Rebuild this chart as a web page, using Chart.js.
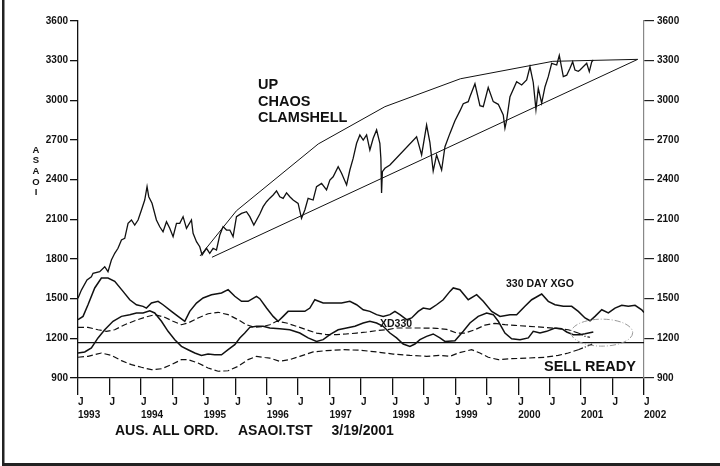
<!DOCTYPE html>
<html>
<head>
<meta charset="utf-8">
<script src="https://cdn.jsdelivr.net/npm/chart.js@4.4.1/dist/chart.umd.min.js"></script>
<style>
  html, body { margin: 0; padding: 0; background: #fff; }
  #wrap { width: 720px; height: 466px; position: relative; }
</style>
</head>
<body>
<div id="wrap"><canvas id="chart"></canvas></div>
<script>
// ASAOI chart - up chaos clamshell

const FONT = 'Arial, "Liberation Sans", Helvetica, sans-serif';

// x axis: years, ticks every half year (Jan / Jul)
const X_MIN = 1993;
const X_MAX = 2002;
const Y_MIN = 900;
const Y_MAX = 3600;
const Y_STEP = 300;

// ASAOI price
const priceYears = [
    1993.000, 1993.054, 1993.143, 1993.213, 1993.239, 1993.345, 1993.425, 1993.477, 1993.531, 1993.584, 1993.636, 1993.691, 1993.743, 1993.796, 1993.850, 1993.902, 1993.955,
    1994.009, 1994.061, 1994.098, 1994.125, 1994.177, 1994.247, 1994.300, 1994.352, 1994.407, 1994.459, 1994.512, 1994.566, 1994.618, 1994.671, 1994.725, 1994.804, 1994.830, 1994.884, 1994.936, 1994.973,
    1995.043, 1995.095, 1995.148, 1995.202, 1995.255, 1995.307, 1995.361, 1995.414, 1995.466, 1995.520, 1995.600, 1995.679, 1995.732, 1995.796, 1995.891, 1995.944, 1995.998,
    1996.050, 1996.103, 1996.157, 1996.209, 1996.262, 1996.316, 1996.368, 1996.421, 1996.500, 1996.554, 1996.607, 1996.659, 1996.739, 1996.793, 1996.873, 1996.952,
    1997.005, 1997.057, 1997.137, 1997.191, 1997.271, 1997.323, 1997.375, 1997.430, 1997.482, 1997.535, 1997.589, 1997.641, 1997.694, 1997.748, 1997.800, 1997.816, 1997.827, 1997.840, 1997.880, 1997.960,
    1998.384, 1998.464, 1998.543, 1998.596, 1998.648, 1998.702, 1998.782, 1998.835, 1998.914, 1998.994,
    1999.073, 1999.126, 1999.205, 1999.232, 1999.312, 1999.391, 1999.444, 1999.523, 1999.603, 1999.683, 1999.762, 1999.789, 1999.816, 1999.869, 1999.975,
    2000.055, 2000.134, 2000.187, 2000.239, 2000.282, 2000.319, 2000.373, 2000.426, 2000.478, 2000.532, 2000.612, 2000.653, 2000.717, 2000.771, 2000.823, 2000.866, 2000.903, 2000.955, 2000.982,
    2001.089, 2001.130, 2001.169, 2001.194
];
const priceValues = [
    1503, 1565, 1641, 1666, 1692, 1704, 1742, 1704, 1792, 1843, 1881, 1944, 1956, 2070, 2095, 2057, 2095,
    2171, 2246, 2347, 2271, 2221, 2095, 2044, 2006, 2082, 2032, 1969, 2070, 2070, 2120, 2032, 2095, 1994, 1931, 1893, 1830,
    1881, 1843, 1881, 1868, 1982, 2045, 2019, 2019, 1969, 2120, 2145, 2158, 2120, 2057, 2140, 2196, 2233,
    2260, 2284, 2315, 2271, 2259, 2300, 2271, 2246, 2220, 2108, 2171, 2259, 2246, 2347, 2372, 2322,
    2397, 2422, 2498, 2448, 2360, 2473, 2561, 2675, 2738, 2700, 2738, 2624, 2713, 2776, 2675, 2560, 2300, 2460, 2486, 2511,
    2725, 2587, 2813, 2680, 2465, 2587, 2473, 2649, 2750, 2845,
    2920, 2975, 2990, 3027, 3125, 2960, 2952, 3097, 2990, 2970, 2889, 2790, 2850, 3027, 3141,
    3116, 3154, 3254, 3135, 2930, 3091, 2978, 3103, 3179, 3280, 3267, 3340, 3180, 3190, 3242, 3292, 3229, 3220, 3229,
    3280, 3217, 3292, 3305
];

// clamshell: upper curve and lower straight line
const clamUpperYears = [1994.94, 1995.52, 1996.82, 1997.88, 1999.08, 2000.55, 2001.90];
const clamUpperValues = [1823, 2165, 2670, 2952, 3163, 3295, 3310];
const clamLowerYears = [1995.13, 2001.90];
const clamLowerValues = [1813, 3310];

// 330 day XGO (upper solid)
const xgoYears = [
    1993.000, 1993.080, 1993.159, 1993.266, 1993.372, 1993.477, 1993.584, 1993.716, 1993.823, 1993.929,
    1994.034, 1994.088, 1994.168, 1994.273, 1994.352, 1994.486, 1994.591, 1994.698, 1994.777, 1994.884, 1994.989,
    1995.123, 1995.282, 1995.387, 1995.493, 1995.600, 1995.705, 1995.838, 1995.891, 1995.998,
    1996.103, 1996.182, 1996.262, 1996.341, 1996.475, 1996.607, 1996.687, 1996.766, 1996.898,
    1997.032, 1997.191, 1997.323, 1997.430, 1997.535, 1997.641, 1997.748, 1997.853, 1997.960,
    1998.039, 1998.119, 1998.225, 1998.305, 1998.410, 1998.489, 1998.596, 1998.702, 1998.807, 1998.914, 1998.967,
    1999.073, 1999.205, 1999.339, 1999.444, 1999.578, 1999.710, 1999.869, 1999.975,
    2000.107, 2000.214, 2000.373, 2000.478, 2000.585, 2000.717, 2000.850, 2000.955,
    2001.062, 2001.142, 2001.221, 2001.328, 2001.433, 2001.539, 2001.646, 2001.751, 2001.858, 2001.964, 2002.000
];
const xgoValues = [
    1341, 1366, 1454, 1581, 1656, 1656, 1631, 1555, 1492, 1454,
    1442, 1429, 1467, 1480, 1454, 1404, 1366, 1329, 1404, 1467, 1505,
    1530, 1543, 1568, 1518, 1480, 1480, 1518, 1500, 1429,
    1366, 1329, 1366, 1404, 1404, 1404, 1429, 1492, 1467,
    1467, 1467, 1480, 1454, 1416, 1404, 1379, 1366, 1379,
    1404, 1379, 1341, 1354, 1404, 1429, 1420, 1454, 1492, 1555, 1581,
    1568, 1492, 1530, 1480, 1404, 1366, 1379, 1379,
    1442, 1492, 1535, 1480, 1454, 1442, 1442, 1404,
    1354, 1333, 1366, 1416, 1392, 1429, 1450, 1442, 1450, 1416, 1395
];

// XD330 (lower solid)
const xdYears = [
    1993.000, 1993.107, 1993.213, 1993.318, 1993.425, 1993.557, 1993.691, 1993.823, 1993.929,
    1994.034, 1994.141, 1994.220, 1994.327, 1994.432, 1994.539, 1994.645, 1994.750, 1994.857, 1994.963,
    1995.068, 1995.175, 1995.282, 1995.387, 1995.493, 1995.573, 1995.652, 1995.732, 1995.838, 1995.944,
    1996.050, 1996.209, 1996.368, 1996.527, 1996.659, 1996.793, 1996.898,
    1997.005, 1997.137, 1997.271, 1997.403, 1997.535, 1997.641, 1997.748, 1997.853, 1997.960,
    1998.066, 1998.171, 1998.278, 1998.357, 1998.437, 1998.543, 1998.648, 1998.755, 1998.835, 1998.994,
    1999.126, 1999.232, 1999.364, 1999.498, 1999.603, 1999.683, 1999.789, 1999.896,
    2000.028, 2000.160, 2000.239, 2000.346, 2000.452, 2000.585, 2000.691, 2000.771, 2000.876, 2000.982,
    2001.062, 2001.194
];
const xdValues = [
    1089, 1097, 1127, 1203, 1265, 1329, 1366, 1379, 1392,
    1392, 1409, 1392, 1329, 1253, 1190, 1139, 1114, 1089, 1071,
    1081, 1076, 1076, 1114, 1152, 1203, 1240, 1283, 1291, 1291,
    1278, 1273, 1265, 1240, 1203, 1177, 1190,
    1228, 1265, 1278, 1291, 1316, 1329, 1316, 1291, 1240,
    1203, 1157, 1139, 1157, 1190, 1215, 1233, 1203, 1177, 1182,
    1253, 1316, 1366, 1392, 1379, 1329, 1240, 1197,
    1190, 1203, 1253, 1240, 1253, 1278, 1273, 1248, 1228, 1228,
    1235, 1248
];

// upper dashed band
const bandHighYears = [
    1993.000, 1993.159, 1993.318, 1993.452, 1993.584, 1993.743, 1993.902,
    1994.061, 1994.220, 1994.379, 1994.512, 1994.645, 1994.750, 1994.909,
    1995.068, 1995.228, 1995.387, 1995.546, 1995.679, 1995.811, 1995.944,
    1996.050, 1996.157, 1996.316, 1996.475, 1996.634, 1996.793, 1996.952,
    1997.111, 1997.271, 1997.430, 1997.589, 1997.748, 1997.907,
    1998.066, 1998.278, 1998.489, 1998.702, 1998.862,
    1999.021, 1999.153, 1999.312, 1999.471, 1999.630, 1999.789, 1999.948,
    2000.160, 2000.426, 2000.637, 2000.796, 2000.955,
    2001.062, 2001.142
];
const bandHighValues = [
    1283, 1283, 1265, 1253, 1265, 1303, 1333,
    1359, 1379, 1359, 1329, 1303, 1316, 1354,
    1386, 1397, 1379, 1341, 1303, 1283, 1290,
    1303, 1329, 1316, 1291, 1265, 1240, 1228,
    1228, 1233, 1240, 1248, 1258, 1265,
    1278, 1278, 1278, 1276, 1268,
    1240, 1240, 1265, 1300, 1313, 1303, 1298,
    1291, 1283, 1273, 1265, 1240,
    1215, 1208
];

// lower dashed band
const bandLowYears = [
    1993.000, 1993.159, 1993.372, 1993.531, 1993.691, 1993.850,
    1994.009, 1994.168, 1994.327, 1994.486, 1994.645, 1994.750, 1994.909,
    1995.068, 1995.228, 1995.387, 1995.546, 1995.705, 1995.838, 1995.971,
    1996.050, 1996.209, 1996.368, 1996.527, 1996.739, 1996.952,
    1997.216, 1997.482, 1997.748,
    1998.012, 1998.278, 1998.543, 1998.755, 1998.914,
    1999.046, 1999.259, 1999.391, 1999.523, 1999.683, 1999.896,
    2000.160, 2000.426, 2000.637, 2000.796, 2000.955,
    2001.089, 2001.194
];
const bandLowValues = [
    1057, 1064, 1089, 1071, 1031, 1001,
    981, 963, 970, 1001, 1039, 1039, 1013,
    976, 951, 955, 988, 1039, 1064, 1055,
    1051, 1026, 1039, 1064, 1097, 1107,
    1114, 1110, 1097,
    1081, 1071, 1064, 1071, 1064,
    1089, 1114, 1089, 1057, 1039, 1046,
    1051, 1057, 1071, 1089, 1114,
    1139, 1160
];

// sell ready level
const sellLevel = 1167;

// ellipse round the end of the oscillators (centre and radii in data units)
const ellipseCenter = { x: 2001.33, y: 1243 };
const ellipseRadius = { x: 0.49, y: 102 };

function toPoints(xs, ys) {
    return xs.map((x, i) => ({ x: x, y: ys[i] }));
}

function lineDataset(label, xs, ys, width, dash) {
    return {
        label,
        data: toPoints(xs, ys),
        borderColor: '#111',
        backgroundColor: '#111',
        borderWidth: width,
        borderDash: dash || [],
        pointRadius: 0,
        tension: 0,
        fill: false
    };
}

function dashDotTail(ctx) {
    return ctx.p0.parsed.x > 2000.85 ? [5, 2, 1, 2] : undefined;
}

const overlayPlugin = {
    id: 'overlay',
    afterDatasetsDraw(chart) {
        const ctx = chart.ctx;
        const x = chart.scales.x;
        const y = chart.scales.y;
        const cx = x.getPixelForValue(ellipseCenter.x);
        const cy = y.getPixelForValue(ellipseCenter.y);
        const rx = x.getPixelForValue(ellipseCenter.x + ellipseRadius.x) - cx;
        const ry = cy - y.getPixelForValue(ellipseCenter.y + ellipseRadius.y);
        ctx.save();
        ctx.strokeStyle = '#999';
        ctx.lineWidth = 1;
        ctx.setLineDash([6, 2, 1, 2]);
        ctx.beginPath();
        ctx.ellipse(cx, cy, rx, ry, 0, 0, Math.PI * 2);
        ctx.stroke();
        ctx.restore();
    },
    afterDraw(chart) {
        const ctx = chart.ctx;
        ctx.save();
        // frame
        ctx.fillStyle = '#222';
        ctx.fillRect(2, 0, 2.5, 466);
        ctx.fillRect(2, 463, 718, 3);

        ctx.fillStyle = '#111';
        ctx.textBaseline = 'middle';

        // vertical axis name
        ctx.textAlign = 'center';
        ctx.font = 'bold 9.5px ' + FONT;
        const letters = ['A', 'S', 'A', 'O', 'I'];
        letters.forEach((ch, i) => ctx.fillText(ch, 36, 150 + i * 10.7));

        ctx.textAlign = 'left';
        ctx.font = 'bold 14.5px ' + FONT;
        ctx.fillText('UP', 258, 85);
        ctx.fillText('CHAOS', 258, 101.5);
        ctx.fillText('CLAMSHELL', 258, 118);
        ctx.fillText('SELL READY', 544, 367);

        ctx.font = 'bold 10.5px ' + FONT;
        ctx.fillText('330 DAY XGO', 506, 284.5);
        ctx.fillText('XD330', 380, 324.5);

        ctx.font = 'bold 14px ' + FONT;
        ctx.fillText('AUS. ALL ORD.', 115, 431);
        ctx.fillText('ASAOI.TST', 238, 431);
        ctx.fillText('3/19/2001', 331.5, 431);
        ctx.restore();
    }
};

const tickFont = { family: FONT, size: 10, weight: 'bold' };

new Chart(document.getElementById('chart'), {
    type: 'line',
    data: {
        datasets: [
            lineDataset('ASAOI', priceYears, priceValues, 1.3),
            lineDataset('Clamshell upper', clamUpperYears, clamUpperValues, 1),
            lineDataset('Clamshell lower', clamLowerYears, clamLowerValues, 1),
            lineDataset('330 DAY XGO', xgoYears, xgoValues, 1.5),
            lineDataset('XD330', xdYears, xdValues, 1.5),
            Object.assign(lineDataset('Band high', bandHighYears, bandHighValues, 1.2, [6, 3]), { segment: { borderDash: dashDotTail } }),
            Object.assign(lineDataset('Band low', bandLowYears, bandLowValues, 1.2, [6, 3]), { segment: { borderDash: dashDotTail } }),
            lineDataset('Sell ready', [X_MIN, X_MAX], [sellLevel, sellLevel], 1.3)
        ]
    },
    options: {
        responsive: true,
        maintainAspectRatio: false,
        animation: false,
        layout: { padding: { top: 21, left: 0, right: 0, bottom: 0 } },
        plugins: {
            legend: { display: false },
            tooltip: { enabled: false }
        },
        scales: {
            x: {
                type: 'linear',
                min: X_MIN,
                max: X_MAX,
                afterFit: function(scale) { scale.height = 88; },
                border: { display: true, color: '#111', width: 1.3 },
                grid: {
                    drawOnChartArea: false,
                    color: '#111',
                    lineWidth: 1.3,
                    tickLength: 17
                },
                ticks: {
                    stepSize: 0.5,
                    autoSkip: false,
                    maxRotation: 0,
                    minRotation: 0,
                    align: 'start',
                    padding: 1,
                    color: '#111',
                    font: Object.assign({ lineHeight: '13px' }, tickFont),
                    callback: function(value) {
                        const yr = Math.round(value);
                        return Math.abs(value - yr) < 0.01 ? ['J', String(yr)] : 'J';
                    }
                }
            },
            y: {
                position: 'left',
                min: Y_MIN,
                max: Y_MAX,
                afterFit: function(scale) { scale.width = 78; },
                border: { display: true, color: '#111', width: 1.3 },
                grid: {
                    drawOnChartArea: false,
                    color: '#111',
                    lineWidth: 1.3,
                    tickLength: 8
                },
                ticks: {
                    stepSize: Y_STEP,
                    padding: 2,
                    color: '#111',
                    font: tickFont,
                    callback: function(value) { return String(value); }
                }
            },
            y2: {
                position: 'right',
                min: Y_MIN,
                max: Y_MAX,
                afterFit: function(scale) { scale.width = 76; },
                border: { display: true, color: '#888', width: 1.2 },
                grid: {
                    drawOnChartArea: false,
                    color: '#222',
                    lineWidth: 1.2,
                    tickLength: 10
                },
                ticks: {
                    stepSize: Y_STEP,
                    padding: 3,
                    color: '#111',
                    font: tickFont,
                    callback: function(value) { return String(value); }
                }
            }
        }
    },
    plugins: [overlayPlugin]
});
</script>
</body>
</html>
